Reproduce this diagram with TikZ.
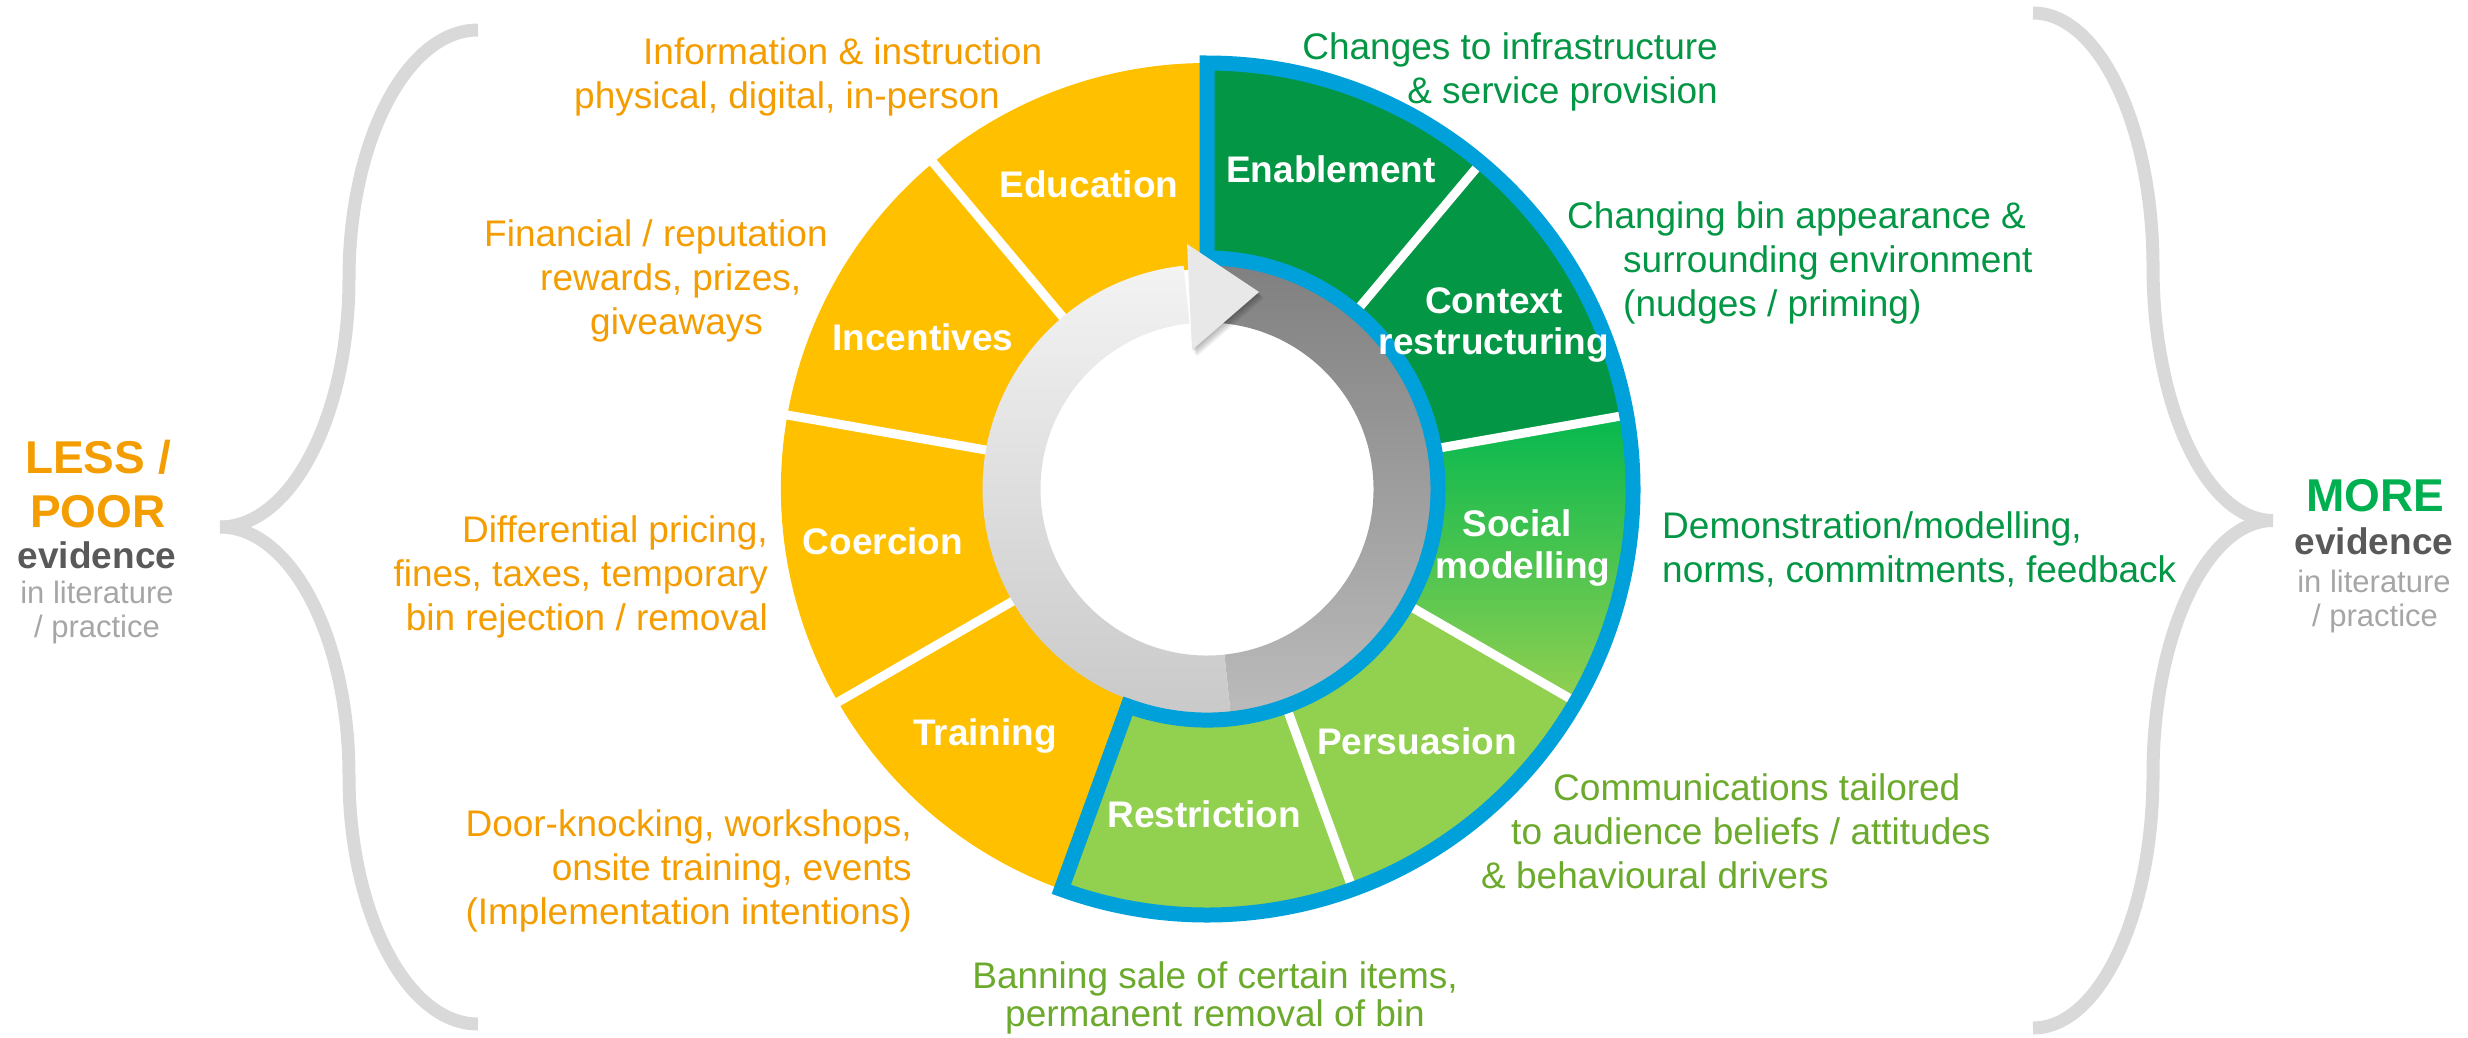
\documentclass[tikz,border=0pt]{standalone}
\usepackage{fontspec}
\setmainfont{Liberation Sans}
\definecolor{ringyellow}{RGB}{255,192,0}
\definecolor{darkgr}{RGB}{3,150,69}
\definecolor{brightgr}{RGB}{5,184,79}
\definecolor{lightgr}{RGB}{146,208,80}
\definecolor{ringblue}{RGB}{0,160,218}
\definecolor{txtorange}{RGB}{244,157,0}
\definecolor{txtdark}{RGB}{3,150,69}
\definecolor{txtlight}{RGB}{108,170,45}
\definecolor{txtmore}{RGB}{0,176,80}
\definecolor{evgray}{RGB}{89,89,89}
\definecolor{litgray}{RGB}{166,166,166}
\definecolor{bracegray}{RGB}{217,217,217}
\definecolor{tailtop}{RGB}{128,128,128}
\definecolor{tailmid}{RGB}{158,158,158}
\definecolor{tailbot}{RGB}{187,187,187}
\definecolor{bodytop}{RGB}{243,243,243}
\definecolor{bodymid}{RGB}{229,229,229}
\definecolor{bodybot}{RGB}{200,200,200}
\definecolor{headgray}{RGB}{232,232,232}
\begin{document}
\begin{tikzpicture}[x=1pt,y=1pt,
  desc/.style={inner sep=0pt, font=\fontsize{37}{44}\selectfont},
  orangetxt/.style={desc, text=txtorange},
  greentxt/.style={desc, text=txtdark},
  lgreentxt/.style={desc, text=txtlight},
  seglabel/.style={inner sep=0pt, anchor=base, text=white, font=\fontsize{37}{44}\selectfont\bfseries},
  bigword/.style={inner sep=0pt, anchor=base, font=\fontsize{46}{54}\selectfont\bfseries},
  evword/.style={inner sep=0pt, anchor=base, text=evgray, font=\fontsize{37}{44}\selectfont\bfseries},
  litword/.style={inner sep=0pt, anchor=base, text=litgray, font=\fontsize{31}{36}\selectfont},
  divider/.style={white, line width=9pt},
  bracestyle/.style={bracegray, line width=13pt, line cap=butt},
]
\useasboundingbox (0,0) rectangle (2468,-1037);

% ---------------- ring ----------------
\begin{scope}[shift={(1207,-489)}]
  \fill[ringyellow] (90:220) arc[start angle=90,end angle=250,radius=220]
     -- (250:426) arc[start angle=250,end angle=90,radius=426] -- cycle;
  \fill[darkgr] (10:220) arc[start angle=10,end angle=90,radius=220]
     -- (90:426) arc[start angle=90,end angle=10,radius=426] -- cycle;
  \shade[top color=brightgr, middle color=brightgr!62!lightgr, bottom color=lightgr]
     (-30:220) arc[start angle=-30,end angle=10,radius=220]
     -- (10:426) arc[start angle=10,end angle=-30,radius=426] -- cycle;
  \fill[lightgr] (-110:220) arc[start angle=-110,end angle=-30,radius=220]
     -- (-30:426) arc[start angle=-30,end angle=-110,radius=426] -- cycle;
  \foreach \a in {130,170,210,50,10,-30,-70}
    \draw[divider] (\a:215) -- (\a:430);
  % circular arrow body
  \shade[top color=tailtop, middle color=tailmid, bottom color=tailbot]
     (-84:166.5) arc[start angle=-84,end angle=88,radius=166.5]
     -- (88:224.5) arc[start angle=88,end angle=-84,radius=224.5] -- cycle;
  \shade[top color=bodytop, middle color=bodymid, bottom color=bodybot]
     (96:166.5) arc[start angle=96,end angle=276,radius=166.5]
     -- (276:224.5) arc[start angle=276,end angle=96,radius=224.5] -- cycle;
  % blue outline of the evidenced group
  \draw[ringblue, line width=15pt, line join=miter]
     (90:231) -- (90:426) arc[start angle=90,end angle=-110,radius=426]
     -- (-110:231) arc[start angle=-110,end angle=90,radius=231] -- cycle;
\end{scope}

% arrow head with soft shadow
\foreach \k in {1,...,6}
  \fill[black, opacity=0.05, shift={(0.8*\k,-1.1*\k)}]
     (1187,-244) -- (1259,-292) -- (1192,-350) -- cycle;
\fill[headgray] (1187,-244) -- (1259,-292) -- (1192,-350) -- cycle;

% ---------------- segment labels ----------------
\node[seglabel] (education) at (1089,-197) {Education};
\node[seglabel] (enablement) at (1331,-182) {Enablement};
\node[seglabel] (incentives) at (923,-350) {Incentives};
\node[seglabel] (coercion) at (883,-554) {Coercion};
\node[seglabel] (training) at (985,-745) {Training};
\node[seglabel] (restriction) at (1204,-827) {Restriction};
\node[seglabel] (persuasion) at (1417,-754) {Persuasion};
\node[seglabel] (social) at (1517,-536) {Social};
\node[seglabel] (modelling) at (1523,-578) {modelling};
\node[seglabel] (context) at (1494,-313) {Context};
\node[seglabel] (restructuring) at (1494,-354) {restructuring};

% ---------------- descriptions (left, orange) ----------------
\node[orangetxt, anchor=base west] (b1a) at (643,-64) {Information \& instruction};
\node[orangetxt, anchor=base west] (b1b) at (574,-108) {physical, digital, in-person};
\node[orangetxt, anchor=base west] (b2a) at (484,-246) {Financial / reputation};
\node[orangetxt, anchor=base west] (b2b) at (540,-290) {rewards, prizes,};
\node[orangetxt, anchor=base west] (b2c) at (590,-334) {giveaways};
\node[orangetxt, anchor=base east] (b3a) at (768,-542) {Differential pricing,};
\node[orangetxt, anchor=base east] (b3b) at (768,-586) {fines, taxes, temporary};
\node[orangetxt, anchor=base east] (b3c) at (768,-630) {bin rejection / removal};
\node[orangetxt, anchor=base east] (b4a) at (912,-836) {Door-knocking, workshops,};
\node[orangetxt, anchor=base east] (b4b) at (912,-880) {onsite training, events};
\node[orangetxt, anchor=base east] (b4c) at (912,-924) {(Implementation intentions)};

% ---------------- descriptions (right, green) ----------------
\node[greentxt, anchor=base east] (b5a) at (1718,-59) {Changes to infrastructure};
\node[greentxt, anchor=base east] (b5b) at (1718,-103) {\& service provision};
\node[greentxt, anchor=base west] (b6a) at (1567,-228) {Changing bin appearance \&};
\node[greentxt, anchor=base west] (b6b) at (1623,-272) {surrounding environment};
\node[greentxt, anchor=base west] (b6c) at (1623,-316) {(nudges / priming)};
\node[greentxt, anchor=base west] (b7a) at (1662,-538) {Demonstration/modelling,};
\node[greentxt, anchor=base west] (b7b) at (1662,-582) {norms, commitments, feedback};
\node[lgreentxt, anchor=base west] (b8a) at (1553,-800) {Communications tailored};
\node[lgreentxt, anchor=base west] (b8b) at (1511,-844) {to audience beliefs / attitudes};
\node[lgreentxt, anchor=base west] (b8c) at (1481,-888) {\& behavioural drivers};
\node[lgreentxt, anchor=base] (b9a) at (1215,-988) {Banning sale of certain items,};
\node[lgreentxt, anchor=base] (b9b) at (1215,-1026) {permanent removal of bin};

% ---------------- braces ----------------
\draw[bracestyle] (478,-30)
   arc[start angle=90,end angle=180,x radius=129,y radius=248.5]
   arc[start angle=0,end angle=-90,x radius=129,y radius=248.5];
\draw[bracestyle] (220,-527)
   arc[start angle=90,end angle=0,x radius=129,y radius=248.5]
   arc[start angle=180,end angle=270,x radius=129,y radius=248.5];
\draw[bracestyle] (2033,-13)
   arc[start angle=90,end angle=0,x radius=120,y radius=253.75]
   arc[start angle=180,end angle=270,x radius=120,y radius=253.75];
\draw[bracestyle] (2273,-520.5)
   arc[start angle=90,end angle=180,x radius=120,y radius=253.75]
   arc[start angle=0,end angle=-90,x radius=120,y radius=253.75];

% ---------------- evidence labels ----------------
\node[bigword, text=txtorange] (less) at (98,-473) {LESS /};
\node[bigword, text=txtorange] (poor) at (98,-527) {POOR};
\node[evword] (evleft) at (97,-568) {evidence};
\node[litword] (litleft) at (97,-603) {in literature};
\node[litword] (pracleft) at (97,-637) {/ practice};
\node[bigword, text=txtmore] (more) at (2375,-511) {MORE};
\node[evword] (evright) at (2374,-554) {evidence};
\node[litword] (litright) at (2374,-592) {in literature};
\node[litword] (pracright) at (2375,-626) {/ practice};
\end{tikzpicture}
\end{document}
